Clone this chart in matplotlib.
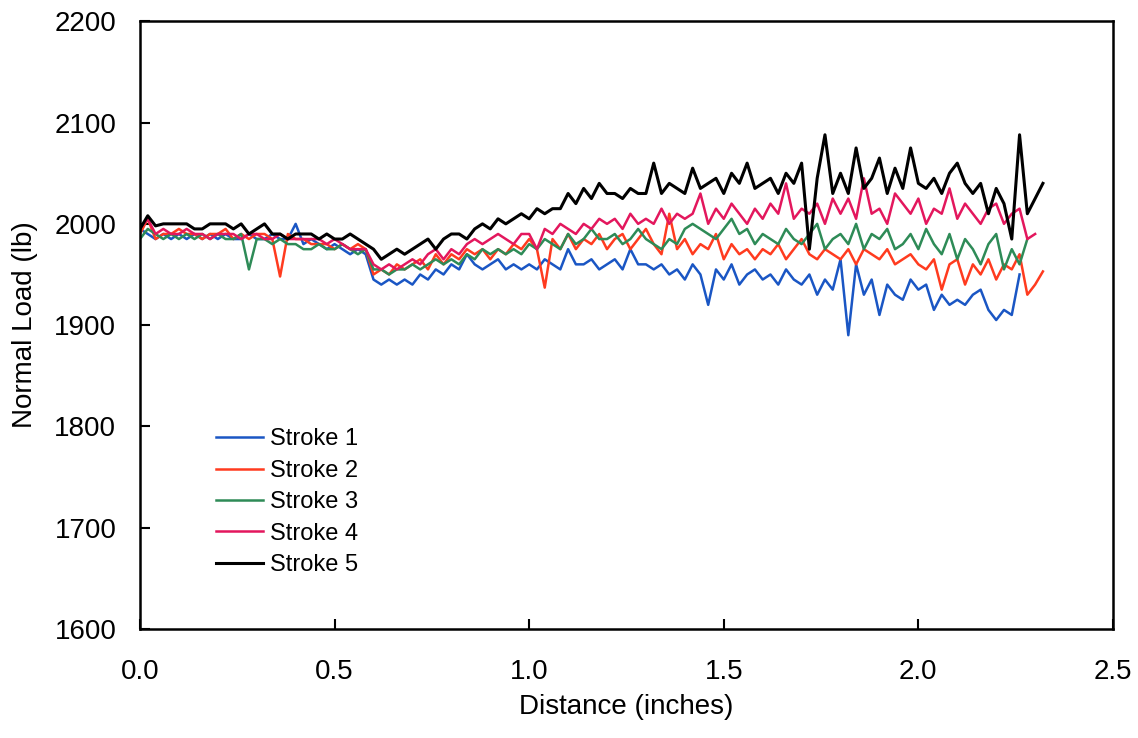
import numpy as np
import matplotlib.pyplot as plt

# normal load readings (lb), sampled every 0.02 in along the stroke
step = 0.02

stroke1 = [1995, 1990, 1985, 1990, 1985, 1990, 1985, 1990, 1985, 1990,
           1985, 1990, 1985, 1985, 1990, 1985, 1985, 1990, 1985, 1985,
           2000, 1980, 1985, 1980, 1975, 1980, 1975, 1970, 1975, 1970,
           1945, 1940, 1945, 1940, 1945, 1940, 1950, 1945, 1955, 1950,
           1960, 1955, 1970, 1960, 1955, 1960, 1965, 1955, 1960, 1955,
           1960, 1955, 1965, 1960, 1955, 1975, 1960, 1960, 1965, 1955,
           1960, 1965, 1955, 1975, 1960, 1960, 1955, 1960, 1950, 1955,
           1945, 1960, 1950, 1920, 1955, 1945, 1960, 1940, 1950, 1955,
           1945, 1950, 1940, 1955, 1945, 1940, 1950, 1930, 1945, 1935,
           1965, 1890, 1960, 1930, 1945, 1910, 1940, 1930, 1925, 1945,
           1935, 1940, 1915, 1930, 1920, 1925, 1920, 1930, 1935, 1915,
           1905, 1915, 1910, 1950]

stroke2 = [1990, 2005, 1985, 1990, 1990, 1995, 1990, 1990, 1985, 1990,
           1990, 1995, 1985, 1990, 1985, 1990, 1990, 1985, 1948, 1990,
           1985, 1985, 1980, 1980, 1980, 1975, 1980, 1975, 1980, 1975,
           1950, 1955, 1950, 1960, 1955, 1960, 1965, 1955, 1970, 1960,
           1970, 1965, 1975, 1970, 1975, 1965, 1975, 1970, 1980, 1975,
           1985, 1975, 1937, 1985, 1975, 1990, 1975, 1985, 1980, 1990,
           1975, 1985, 1990, 1975, 1985, 1995, 1980, 1970, 2010, 1975,
           1985, 1970, 1980, 1975, 1990, 1965, 1980, 1970, 1975, 1965,
           1975, 1970, 1980, 1965, 1975, 1985, 1970, 1965, 1975, 1970,
           1965, 1975, 1960, 1975, 1970, 1965, 1975, 1960, 1965, 1970,
           1960, 1955, 1965, 1935, 1960, 1965, 1940, 1960, 1950, 1965,
           1945, 1960, 1955, 1970, 1930, 1940, 1953]

stroke3 = [1985, 1995, 1990, 1985, 1990, 1985, 1990, 1985, 1990, 1985,
           1990, 1985, 1985, 1990, 1955, 1985, 1985, 1980, 1985, 1980,
           1980, 1975, 1975, 1980, 1975, 1975, 1980, 1975, 1970, 1975,
           1955, 1955, 1950, 1955, 1955, 1960, 1955, 1960, 1965, 1960,
           1965, 1960, 1970, 1965, 1975, 1970, 1975, 1970, 1975, 1970,
           1980, 1975, 1985, 1980, 1975, 1990, 1980, 1985, 1995, 1985,
           1985, 1990, 1980, 1985, 1995, 1985, 1980, 1975, 1985, 1980,
           1995, 2000, 1995, 1990, 1985, 1995, 2005, 1990, 1995, 1980,
           1990, 1985, 1980, 1995, 1985, 1980, 1990, 2000, 1975, 1985,
           1990, 1980, 2000, 1975, 1990, 1985, 1995, 1975, 1980, 1990,
           1975, 1995, 1980, 1970, 1990, 1965, 1985, 1975, 1960, 1980,
           1990, 1955, 1975, 1960, 1985]

stroke4 = [1995, 2005, 1990, 1995, 1990, 1990, 1995, 1990, 1990, 1985,
           1990, 1990, 1990, 1985, 1990, 1990, 1985, 1985, 1990, 1985,
           1985, 1985, 1985, 1985, 1980, 1985, 1980, 1975, 1975, 1975,
           1960, 1955, 1960, 1955, 1960, 1965, 1960, 1970, 1975, 1965,
           1975, 1970, 1980, 1985, 1980, 1985, 1990, 1985, 1980, 1990,
           1990, 1975, 1995, 1990, 2000, 1995, 1990, 2000, 1995, 2005,
           2000, 2005, 1995, 2010, 2000, 2005, 2000, 2015, 2000, 2010,
           2005, 2010, 2030, 2000, 2015, 2005, 2020, 2010, 2000, 2015,
           2005, 2020, 2010, 2040, 2005, 2015, 2010, 2020, 2000, 2025,
           2010, 2025, 2005, 2045, 2010, 2015, 2000, 2030, 2020, 2010,
           2025, 2000, 2015, 2010, 2035, 2005, 2020, 2010, 2000, 2015,
           2020, 2000, 2010, 2015, 1985, 1990]

stroke5 = [1995, 2008, 1998, 2000, 2000, 2000, 2000, 1995, 1995, 2000,
           2000, 2000, 1995, 2000, 1990, 1995, 2000, 1990, 1990, 1985,
           1990, 1990, 1990, 1985, 1990, 1985, 1985, 1990, 1985, 1980,
           1975, 1965, 1970, 1975, 1970, 1975, 1980, 1985, 1975, 1985,
           1990, 1990, 1985, 1995, 2000, 1995, 2005, 2000, 2005, 2010,
           2005, 2015, 2010, 2015, 2015, 2030, 2020, 2035, 2025, 2040,
           2030, 2030, 2025, 2035, 2030, 2030, 2060, 2030, 2040, 2035,
           2030, 2055, 2035, 2040, 2045, 2030, 2050, 2040, 2060, 2035,
           2040, 2045, 2030, 2050, 2040, 2060, 1975, 2045, 2088, 2030,
           2050, 2030, 2075, 2035, 2045, 2065, 2030, 2055, 2035, 2075,
           2040, 2035, 2045, 2030, 2050, 2060, 2040, 2030, 2040, 2010,
           2035, 2020, 1985, 2088, 2010, 2025, 2040]

series = [stroke1, stroke2, stroke3, stroke4, stroke5]
labels = ['Stroke 1', 'Stroke 2', 'Stroke 3', 'Stroke 4', 'Stroke 5']
colors = ['#1a56c4', '#ff3b1f', '#2e8b57', '#e3175d', '#000000']

plt.rcParams['font.family'] = ['Liberation Sans', 'DejaVu Sans']

fig = plt.figure(figsize=(11.38, 7.38), dpi=100)
ax = fig.add_axes([0.123, 0.148, 0.855, 0.823])

for y, lab, c in zip(series, labels, colors):
    x = np.arange(len(y)) * step
    lw = 2.2 if c == '#000000' else 1.8
    ax.plot(x, y, color=c, lw=lw, label=lab)

ax.set_xlim(0, 2.5)
ax.set_ylim(1600, 2200)
ax.set_xticks(np.arange(0, 2.51, 0.5))
ax.set_yticks(np.arange(1600, 2201, 100))
ax.xaxis.set_major_formatter(plt.FormatStrFormatter('%.1f'))
ax.tick_params(direction='in', length=7, width=1.5, labelsize=20)
ax.tick_params(axis='x', pad=22)
ax.tick_params(axis='y', pad=17)
for s in ax.spines.values():
    s.set_linewidth(1.8)

ax.set_xlabel('Distance (inches)', fontsize=20, labelpad=6)
ax.set_ylabel('Normal Load (lb)', fontsize=20, labelpad=12)

ax.legend(loc='upper left', bbox_to_anchor=(0.056, 0.365), frameon=False,
          fontsize=17, handlelength=2.0, handletextpad=0.3, labelspacing=0.4)

fig.savefig('out.png', dpi=100)
